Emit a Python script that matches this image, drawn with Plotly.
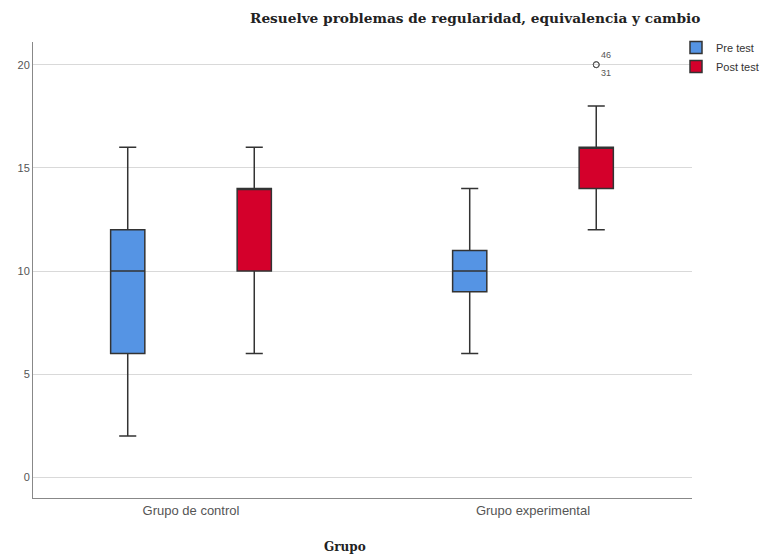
import plotly.graph_objects as go

categories = ["Grupo de control", "Grupo experimental"]
series = ["Pre test", "Post test"]
colors = ["#5594E4", "#D4002B"]

pre_min = [2, 6]
pre_q1 = [6, 9]
pre_med = [10, 10]
pre_q3 = [12, 11]
pre_max = [16, 14]

post_min = [6, 12]
post_q1 = [10, 14]
post_med = [14, 16]
post_q3 = [14, 16]
post_max = [16, 18]

outlier_cat = [1, 1]
outlier_val = [20, 20]
outlier_lbl = ["46", "31"]
outlier_pos = ["top right", "bottom right"]

offsets = [-0.185, 0.185]
xi = list(range(len(categories)))

W, H = 761, 546
ML, MR, MT, MB = 25, 77, 34, 56
PW, PH = W - ML - MR, H - MT - MB

fig = go.Figure()
stats = [(pre_min, pre_q1, pre_med, pre_q3, pre_max), (post_min, post_q1, post_med, post_q3, post_max)]
for s, (mn, q1, md, q3, mx) in enumerate(stats):
    fig.add_trace(go.Box(
        name=series[s],
        x=[i + offsets[s] for i in xi],
        q1=q1, median=md, q3=q3, lowerfence=mn, upperfence=mx,
        width=0.1,
        whiskerwidth=0.5,
        fillcolor=colors[s],
        line=dict(color="#333333", width=1.5),
        boxpoints=False,
    ))

fig.add_trace(go.Scatter(
    x=[c + offsets[1] for c in outlier_cat], y=outlier_val,
    mode="markers+text", text=outlier_lbl, textposition=outlier_pos,
    marker=dict(symbol="circle-open", size=6, color="#555"),
    textfont=dict(size=9, color="#555", family="Liberation Sans"),
    showlegend=False, cliponaxis=False,
))

fig.update_layout(
    width=W, height=H,
    margin=dict(l=ML, r=MR, t=MT, b=MB, autoexpand=False),
    plot_bgcolor="white", paper_bgcolor="white",
    font=dict(family="Liberation Sans", size=12, color="#444"),
    showlegend=True,
    legend=dict(xref="container", yref="container", x=668 / W, y=1 - 25 / H,
                xanchor="left", yanchor="top",
                font=dict(size=11, color="#333"), bgcolor="rgba(0,0,0,0)",
                tracegroupgap=0, itemwidth=30),
    xaxis=dict(range=[-0.462, 1.465], tickvals=xi, ticktext=categories,
               showgrid=False, zeroline=False, showline=True, linecolor="#888",
               linewidth=1, ticks="", tickfont=dict(size=13, color="#555")),
    yaxis=dict(range=[-1, 21.1], tickvals=[0, 5, 10, 15, 20],
               showgrid=True, gridcolor="#d9d9d9", gridwidth=1, zeroline=False,
               showline=True, linecolor="#888", linewidth=1, ticks="",
               tickfont=dict(size=11, color="#555")),
    annotations=[
        dict(text="<b>Resuelve problemas de regularidad, equivalencia y cambio</b>",
             x=(467 - ML) / PW, y=1 + (MT - 10) / PH, xref="paper", yref="paper",
             xanchor="center", yanchor="middle",
             showarrow=False, font=dict(size=13.7, family="DejaVu Serif", color="#222")),
        dict(text="<b>Grupo</b>",
             x=(337 - ML) / PW, y=-(539 - (MT + PH)) / PH, xref="paper", yref="paper",
             xanchor="center", yanchor="middle",
             showarrow=False, font=dict(size=12, family="DejaVu Serif", color="#222")),
    ],
)
fig.write_html("out.html")
